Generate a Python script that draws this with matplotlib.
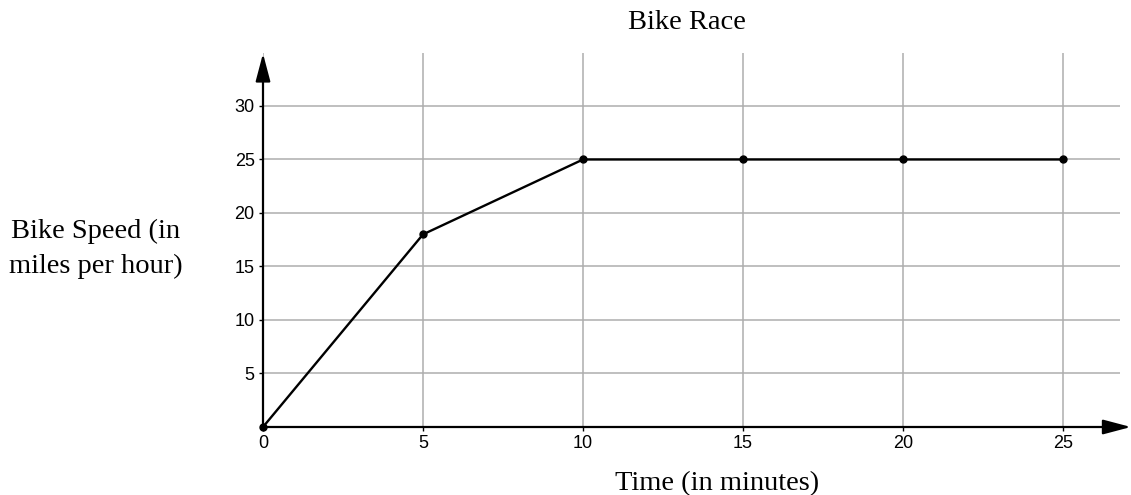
import matplotlib
matplotlib.use("Agg")
import matplotlib.pyplot as plt
from matplotlib.patches import FancyArrowPatch

# data
minutes = [0, 5, 10, 15, 20, 25]
speed = [0, 18, 25, 25, 25, 25]
x_ticks = [0, 5, 10, 15, 20, 25]
y_ticks = [5, 10, 15, 20, 25, 30]

W, H = 1131, 495
fig = plt.figure(figsize=(W / 100, H / 100), dpi=100)
ax = fig.add_axes([263 / W, 68 / H, 857 / W, 374 / H])

ax.set_xlim(0, 26.78)
ax.set_ylim(0, 34.95)
for s in ax.spines.values():
    s.set_visible(False)

ax.set_xticks(x_ticks)
ax.set_yticks(y_ticks)
ax.tick_params(direction="out", length=3, width=1, color="black",
               labelsize=13, pad=3)
for lab in ax.get_xticklabels() + ax.get_yticklabels():
    lab.set_fontfamily("Liberation Sans")
ax.grid(True, color="#adadad", linewidth=1.1)
ax.set_axisbelow(True)

ax.plot(minutes, speed, color="black", linewidth=1.7, marker="o",
        markersize=5, zorder=4, clip_on=False)

# axis lines with arrowheads
ya = FancyArrowPatch((0, 0), (0, 34.9), arrowstyle="-|>,head_length=17,head_width=4.5",
                     mutation_scale=1, color="black", linewidth=1.6,
                     clip_on=False, zorder=3, shrinkA=0, shrinkB=0)
xa = FancyArrowPatch((0, 0), (27.12, 0), arrowstyle="-|>,head_length=17,head_width=4.5",
                     mutation_scale=1, color="black", linewidth=1.6,
                     clip_on=False, zorder=3, shrinkA=0, shrinkB=0)
ax.add_patch(ya)
ax.add_patch(xa)

serif = "Liberation Serif"
fig.text(687 / W, 1 - 29 / H, "Bike Race", ha="center", va="baseline",
         fontsize=20.5, family=serif)
fig.text(717 / W, 1 - 490 / H, "Time (in minutes)", ha="center", va="baseline",
         fontsize=20.5, family=serif)
fig.text(11 / W, 1 - 238 / H, "Bike Speed (in", ha="left", va="baseline",
         fontsize=20.5, family=serif)
fig.text(9 / W, 1 - 273 / H, "miles per hour)", ha="left", va="baseline",
         fontsize=20.5, family=serif)

fig.savefig("out.png", dpi=100)
